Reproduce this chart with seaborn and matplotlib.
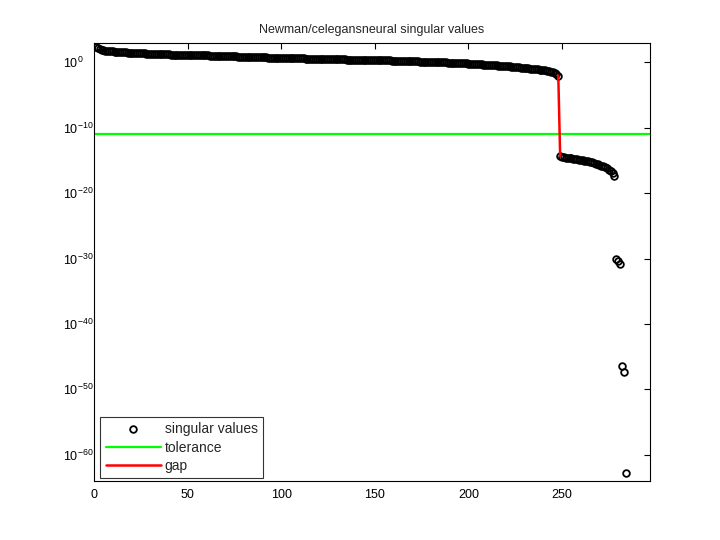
import numpy as np
import pandas as pd
import matplotlib
matplotlib.use('Agg')
import matplotlib.pyplot as plt
import seaborn as sns

# log10 singular values
upper_log = [
    2.34, 2.15, 2.05, 1.95, 1.86, 1.79, 1.74, 1.70, 1.67, 1.65,
    1.63, 1.61, 1.59, 1.57, 1.55, 1.53, 1.51, 1.49, 1.47, 1.46,
    1.44, 1.42, 1.40, 1.39, 1.37, 1.36, 1.35, 1.33, 1.32, 1.31,
    1.30, 1.28, 1.27, 1.26, 1.25, 1.24, 1.23, 1.22, 1.21, 1.20,
    1.19, 1.18, 1.18, 1.17, 1.16, 1.15, 1.14, 1.14, 1.13, 1.12,
    1.11, 1.10, 1.10, 1.09, 1.08, 1.07, 1.07, 1.06, 1.05, 1.04,
    1.04, 1.03, 1.02, 1.01, 1.00, 0.99, 0.98, 0.97, 0.96, 0.95,
    0.94, 0.93, 0.92, 0.91, 0.90, 0.89, 0.88, 0.87, 0.86, 0.85,
    0.84, 0.83, 0.82, 0.81, 0.80, 0.79, 0.78, 0.78, 0.77, 0.76,
    0.75, 0.74, 0.73, 0.72, 0.71, 0.70, 0.69, 0.68, 0.68, 0.67,
    0.66, 0.65, 0.64, 0.64, 0.63, 0.62, 0.61, 0.61, 0.60, 0.59,
    0.58, 0.58, 0.57, 0.56, 0.55, 0.55, 0.54, 0.53, 0.53, 0.52,
    0.51, 0.51, 0.50, 0.49, 0.49, 0.48, 0.48, 0.47, 0.46, 0.46,
    0.45, 0.44, 0.44, 0.43, 0.42, 0.42, 0.41, 0.40, 0.40, 0.39,
    0.38, 0.38, 0.37, 0.37, 0.36, 0.35, 0.35, 0.34, 0.33, 0.33,
    0.32, 0.31, 0.31, 0.30, 0.30, 0.29, 0.28, 0.28, 0.27, 0.26,
    0.25, 0.24, 0.23, 0.22, 0.21, 0.20, 0.19, 0.18, 0.17, 0.16,
    0.15, 0.14, 0.13, 0.12, 0.11, 0.10, 0.09, 0.08, 0.07, 0.06,
    0.05, 0.04, 0.03, 0.02, 0.01, 0.00, -0.01, -0.03, -0.04, -0.05,
    -0.07, -0.08, -0.09, -0.11, -0.12, -0.13, -0.15, -0.16, -0.18, -0.19,
    -0.21, -0.23, -0.25, -0.27, -0.29, -0.31, -0.33, -0.35, -0.37, -0.39,
    -0.41, -0.43, -0.45, -0.47, -0.49, -0.51, -0.53, -0.55, -0.57, -0.59,
    -0.61, -0.64, -0.66, -0.69, -0.71, -0.74, -0.77, -0.80, -0.83, -0.86,
    -0.89, -0.92, -0.95, -0.98, -1.01, -1.04, -1.08, -1.12, -1.16, -1.20,
    -1.25, -1.30, -1.35, -1.42, -1.50, -1.62, -1.80, -2.05,
]
lower_log = [
    -14.40, -14.50, -14.55, -14.60, -14.63, -14.66, -14.70, -14.75, -14.80, -14.85,
    -14.90, -14.95, -15.00, -15.05, -15.10, -15.15, -15.22, -15.30, -15.40, -15.50,
    -15.60, -15.70, -15.80, -15.92, -16.05, -16.20, -16.40, -16.65, -16.95, -17.45,
]
tail_log = [-30.10, -30.30, -30.90, -46.50, -47.30, -62.80]
tolerance = 1.2e-11
gap_index = 248  # last index above the tolerance
n = 297

sv = 10.0 ** np.array(upper_log + lower_log + tail_log)
df = pd.DataFrame({'i': np.arange(1, len(sv) + 1), 'sv': sv})
gap = df[(df['i'] >= gap_index) & (df['i'] <= gap_index + 1)]

sns.set_style('white')
plt.rcParams['font.family'] = ['Liberation Sans', 'DejaVu Sans']
plt.rcParams['mathtext.fontset'] = 'custom'
plt.rcParams['mathtext.rm'] = 'Liberation Sans'
plt.rcParams['axes.unicode_minus'] = False

fig = plt.figure(figsize=(7.2, 5.4), dpi=100)
ax = fig.add_axes([0.1306, 0.1093, 0.7722, 0.8117])

sns.lineplot(data=df, x='i', y='sv', ax=ax, marker='o', linestyle='none',
             markersize=4.8, markerfacecolor='none', markeredgecolor='black',
             markeredgewidth=1.3, color='black', label='singular values')
ax.axhline(tolerance, color=(0, 1, 0), lw=1.6, label='tolerance')
sns.lineplot(data=gap, x='i', y='sv', ax=ax, color=(1, 0, 0), lw=1.8, label='gap')

ax.set_yscale('log')
ax.set_xlim(0, n)
ax.set_ylim(1e-64, 1e3)
ax.set_xticks([0, 50, 100, 150, 200, 250])
ax.set_yticks([10.0 ** k for k in range(-60, 1, 10)])
ax.yaxis.set_minor_locator(matplotlib.ticker.NullLocator())
ax.tick_params(direction='in', length=4, width=0.8, top=True, right=True,
               labelsize=9, colors='black', pad=6)
# matlab-like: the "10" stays in place, the exponent grows towards the axis
ax.tick_params(axis='y', pad=22)
for lab in ax.get_yticklabels():
    lab.set_horizontalalignment('left')
for s in ax.spines.values():
    s.set_color('black')
    s.set_linewidth(0.8)
ax.set_xlabel('')
ax.set_ylabel('')
ax.set_title('Newman/celegansneural singular values', fontsize=9, pad=7)

leg = ax.legend(loc='lower left', bbox_to_anchor=(0.011, 0.006), borderaxespad=0,
                fontsize=10, frameon=True, fancybox=False, edgecolor='black',
                handlelength=4.0, handletextpad=0.25, labelspacing=0.3,
                borderpad=0.4)
leg.get_frame().set_linewidth(0.8)

fig.savefig('out.png', dpi=100)
